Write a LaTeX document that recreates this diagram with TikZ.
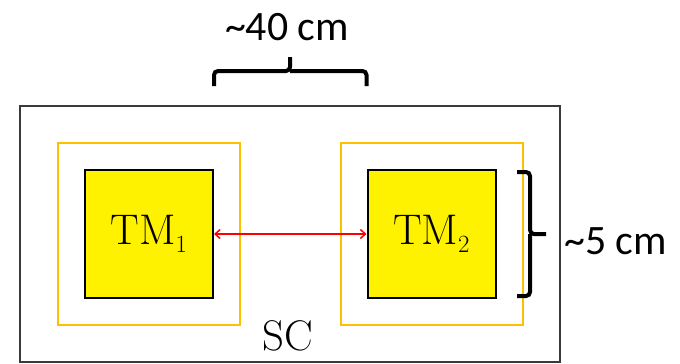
\documentclass[tikz,border=0pt]{standalone}
\usepackage{fontspec}
\newfontfamily\calib{Carlito}
\usetikzlibrary{arrows.meta,calc}
\definecolor{gold}{HTML}{FFC000}
\definecolor{frame}{HTML}{3A3A3A}
\tikzset{
  tmbox/.style={draw=black, fill=yellow, line width=2bp, minimum width=128bp, minimum height=128bp, inner sep=0pt, font=\fontsize{43}{43}\selectfont},
  goldbox/.style={draw=gold, line width=2bp, minimum width=182bp, minimum height=182bp, inner sep=0pt},
  brace/.style={draw=black, line width=4bp, rounded corners=4bp},
  lbl/.style={font=\calib\fontsize{42}{42}\selectfont, inner sep=0pt}
}
\begin{document}
\begin{tikzpicture}[x=1bp,y=-1bp]
\useasboundingbox (0,0) rectangle (680,363);
\node[draw=frame, line width=2bp, minimum width=540bp, minimum height=256bp, inner sep=0pt] (sc) at (290,234) {};
\node[goldbox] (o1) at (149,234) {};
\node[goldbox] (o2) at (431.5,234) {};
\node[tmbox] (tm1) at (149,234) {$\mathrm{TM}_1$};
\node[tmbox] (tm2) at (431.5,234) {$\mathrm{TM}_2$};
\draw[red, line width=1.5bp, {Straight Barb[length=5bp,width=9bp]}-{Straight Barb[length=5bp,width=9bp]}] (tm1.east) -- (tm2.west);
\node[font=\fontsize{43}{43}\selectfont, inner sep=0pt] (sclbl) at (288,336) {SC};
% top brace
\coordinate (tl) at (tm1.east |- 0,86);
\coordinate (tr) at (tm2.west |- 0,86);
\draw[brace] (tl) -- ++(0,-15) -- (290,71) -- (290,57) (290,71) -- ($(tr)+(0,-15)$) -- (tr);
\node[lbl] (w) at (287,27) {\textasciitilde 40 cm};
% right brace
\coordinate (bt) at (517,172);
\coordinate (bb) at (517,296);
\draw[brace] (bt) -- (530,172) -- (530,234) -- (546,234) (530,234) -- (530,296) -- (bb);
\node[lbl, anchor=west] (h) at (564,241) {\textasciitilde 5 cm};
\end{tikzpicture}
\end{document}
